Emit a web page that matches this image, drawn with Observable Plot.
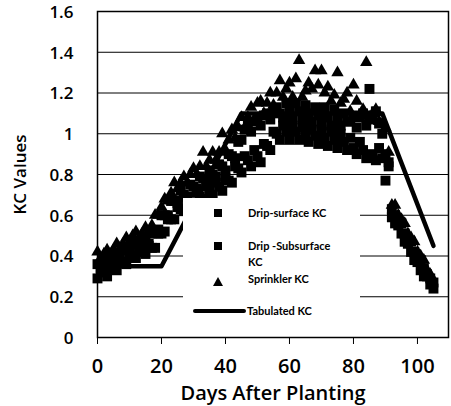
<!DOCTYPE html>
<html>
<head>
<meta charset="utf-8">
<script src="https://cdn.jsdelivr.net/npm/d3@7"></script>
<script src="https://cdn.jsdelivr.net/npm/@observablehq/plot@0.6"></script>
<style>
  html, body { margin: 0; padding: 0; background: #fff; }
  #wrap { position: relative; width: 451px; height: 406px; font-family: "Open Sans", Lato, sans-serif; }
  #legend { position: absolute; left: 183px; top: 198px; width: 177px; height: 127px; background: #fff; }
  .li { position: absolute; font-family: Lato, sans-serif; font-size: 11px; font-weight: 700; color: #000; line-height: 16px; white-space: nowrap; }
  .sw { position: absolute; background: #000; }
</style>
</head>
<body>
<div id="wrap"></div>
<script>
const xTicks = [0, 20, 40, 60, 80, 100];
const yTicks = [0, 0.2, 0.4, 0.6, 0.8, 1, 1.2, 1.4, 1.6];
const yTickLabels = ["0", "0.2", "0.4", "0.6", "0.8", "1", "1.2", "1.4", "1.6"];
const xLabel = "Days After Planting";
const yLabel = "KC Values";
const seriesNames = ["Drip-surface KC", "Drip -Subsurface KC", "Sprinkler KC", "Tabulated KC"];

// Days After Planting (one reading per day)
const surfDays = [0,1,2,3,4,5,6,7,8,9,10,11,12,13,14,15,16,17,18,19,20,21,22,23,24,25,26,27,28,29,30,31,32,33,34,35,36,37,38,39,40,41,42,43,44,45,46,47,48,49,50,51,52,53,54,55,56,57,58,59,60,61,62,63,64,65,66,67,68,69,70,71,72,73,74,75,76,77,78,79,80,81,82,83,84,85,86,87,88,89,90,91,92,93,94,95,96,97,98,99,100,101,102,103,104,105];
const surfKC = [0.36,0.34,0.38,0.37,0.36,0.40,0.40,0.39,0.43,0.43,
  0.43,0.47,0.46,0.44,0.48,0.48,0.46,0.51,0.52,0.53,
  0.60,0.60,0.60,0.67,0.67,0.66,0.72,0.70,0.69,0.75,
  0.74,0.73,0.79,0.78,0.77,0.82,0.80,0.79,0.85,0.84,
  0.82,0.90,0.89,0.88,0.96,0.97,1.02,1.05,1.01,1.06,
  1.08,1.04,1.09,1.10,1.07,1.11,1.13,1.10,1.08,1.15,
  1.11,1.08,1.15,1.11,1.07,1.14,1.10,1.06,1.13,1.09,
  1.05,1.13,1.08,1.04,1.12,1.08,1.04,1.10,1.06,1.06,
  1.09,1.03,1.08,1.10,1.04,1.09,1.07,1.11,1.05,1.00,
  0.90,0.86,0.63,0.60,0.56,0.56,0.51,0.47,0.47,0.42,
  0.38,0.38,0.34,0.31,0.29,0.27];

const subDays = [0,1,2,3,4,5,6,7,8,9,10,11,12,13,14,15,16,17,18,19,20,21,22,23,24,25,26,27,28,29,30,31,32,33,34,35,36,37,38,39,40,41,42,43,44,45,46,47,48,49,50,51,52,53,54,55,56,57,58,59,60,61,62,63,64,65,66,67,68,69,70,71,72,73,74,75,76,77,78,79,80,81,82,83,84,85,86,87,88,89,90,91,92,93,94,95,96,97,98,99,100,101,102,103,104,105];
const subKC = [0.29,0.32,0.32,0.30,0.34,0.34,0.33,0.37,0.37,0.36,
  0.41,0.40,0.39,0.43,0.42,0.41,0.45,0.44,0.44,0.51,
  0.51,0.52,0.58,0.58,0.58,0.64,0.63,0.62,0.67,0.66,
  0.65,0.71,0.69,0.68,0.74,0.72,0.70,0.76,0.74,0.72,
  0.78,0.77,0.76,0.84,0.83,0.81,0.89,0.87,0.84,0.92,
  0.89,0.86,0.95,0.94,0.92,1.01,1.00,0.97,1.04,1.01,
  0.97,1.04,1.01,0.97,1.03,1.00,0.96,1.02,0.99,0.95,
  1.02,0.98,0.94,1.01,0.97,0.93,1.00,0.96,0.92,0.98,
  0.93,0.90,0.96,0.92,0.88,1.22,0.90,0.87,0.93,0.88,
  0.77,0.84,0.59,0.56,0.55,0.51,0.47,0.46,0.42,0.38,
  0.37,0.33,0.30,0.30,0.26,0.24];

const sprDays = [0,1,2,3,4,5,6,7,8,9,10,11,12,13,14,15,16,17,18,19,20,21,22,23,24,25,26,27,28,29,30,31,32,33,34,35,36,37,38,39,40,41,42,43,44,45,46,47,48,49,50,51,52,53,54,55,56,57,58,59,60,61,62,63,64,65,66,67,68,69,70,71,72,73,74,75,76,77,78,79,80,81,82,83,84,85,86,87,88,89,90,91,92,93,94,95,96,97,98,99,100,101,102,103,104];
const sprKC = [0.42,0.39,0.41,0.43,0.41,0.43,0.46,0.44,0.46,0.49,
  0.47,0.50,0.52,0.49,0.51,0.54,0.52,0.55,0.60,0.60,
  0.64,0.68,0.67,0.71,0.76,0.73,0.76,0.79,0.76,0.80,
  0.83,0.80,0.84,0.91,0.84,0.87,0.91,0.87,0.91,1.00,
  0.92,0.97,1.02,0.98,1.03,1.08,1.03,1.08,1.13,1.07,
  1.15,1.16,1.10,1.15,1.20,1.14,1.20,1.26,1.18,1.22,
  1.25,1.18,1.27,1.36,1.18,1.21,1.25,1.22,1.31,1.24,
  1.31,1.20,1.23,1.16,1.19,1.30,1.15,1.17,1.20,1.11,
  1.24,1.16,1.09,1.12,1.35,1.08,1.10,1.12,1.06,1.05,
  1.03,0.91,0.65,0.65,0.60,0.58,0.56,0.51,0.49,0.47,
  0.42,0.40,0.38,0.33,0.31];

// Tabulated (FAO-style) crop coefficient curve
const tabDays = [0, 20, 45, 89, 105];
const tabKC = [0.35, 0.35, 1.10, 1.10, 0.45];

const toRows = (xs, ys) => xs.map((x, i) => ({x, y: ys[i]}));
const surf = toRows(surfDays, surfKC);
const sub = toRows(subDays, subKC);
const spr = toRows(sprDays, sprKC);
const tab = toRows(tabDays, tabKC);

const plot = Plot.plot({
  width: 451,
  height: 406,
  marginLeft: 97,
  marginRight: 3,
  marginTop: 11,
  marginBottom: 69,
  style: {fontFamily: "'Open Sans', Lato, sans-serif", color: "#000", background: "#fff", overflow: "visible"},
  x: {domain: [0, 109.7]},
  y: {domain: [0, 1.6]},
  marks: [
    Plot.ruleY(yTicks, {stroke: "#000", strokeWidth: 1}),
    Plot.line(tab, {x: "x", y: "y", stroke: "#000", strokeWidth: 4.5, strokeLinecap: "round"}),
    Plot.dot(sub, {x: "x", y: "y", symbol: "square", r: 5.6, fill: "#000"}),
    Plot.dot(surf, {x: "x", y: "y", symbol: "square", r: 5.6, fill: "#000"}),
    Plot.dot(spr, {x: "x", y: "y", symbol: "triangle", r: 4.6, fill: "#000"}),
    Plot.frame({stroke: "#000", strokeWidth: 1.5}),
    Plot.axisX(xTicks, {anchor: "bottom", tickSize: 7, tickPadding: 14, fontSize: 20, fontWeight: 600,
      label: xLabel, labelAnchor: "center", labelArrow: "none", labelOffset: 62}),
    Plot.axisY(yTicks, {anchor: "left", tickSize: 0, tickPadding: 24, fontSize: 17, fontWeight: 600, dy: 1,
      tickFormat: (d) => yTickLabels[yTicks.indexOf(d)],
      label: yLabel, labelAnchor: "center", labelArrow: "none", labelOffset: 84})
  ]
});

const wrap = document.getElementById("wrap");
wrap.appendChild(plot);

// legend overlay (white box inside the plot area)
const legend = document.createElement("div");
legend.id = "legend";
wrap.appendChild(legend);
function add(html, left, top, cls) {
  const d = document.createElement("div");
  d.className = cls; d.style.left = left + "px"; d.style.top = top + "px";
  d.innerHTML = html; legend.appendChild(d); return d;
}
const sq1 = add("", 31, 11, "sw"); sq1.style.width = "8px"; sq1.style.height = "8px";
const sq2 = add("", 31, 44, "sw"); sq2.style.width = "8px"; sq2.style.height = "8px";
add('<svg width="10" height="9"><path d="M5,0L10,9L0,9Z" fill="#000"/></svg>', 30, 76, "li");
const ln = add("", 10, 111, "sw"); ln.style.width = "53px"; ln.style.height = "4px"; ln.style.borderRadius = "2px";
add(seriesNames[0], 65, 7, "li");
add(seriesNames[1].replace(" KC", "") + "<br>KC", 65, 40, "li");
add(seriesNames[2], 65, 73, "li");
add(seriesNames[3], 64, 105, "li");
</script>
</body>
</html>
